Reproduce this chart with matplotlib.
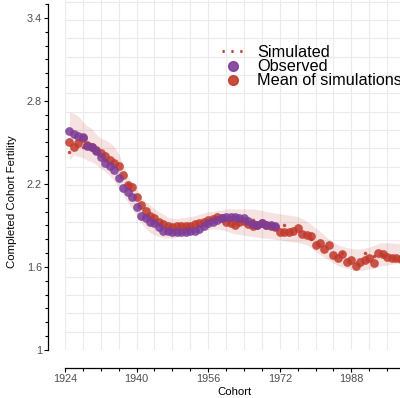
import numpy as np
from matplotlib import pyplot as plt
from matplotlib.lines import Line2D

plt.rcParams['font.family'] = ['Liberation Sans', 'DejaVu Sans']

years = np.arange(1925, 2000)

mean_sim = [2.506, 2.47, 2.494, 2.53, 2.48, 2.465, 2.445, 2.427, 2.40, 2.374,
            2.354, 2.33, 2.265, 2.193, 2.176, 2.104, 2.05, 2.007, 1.969, 1.952,
            1.923, 1.911, 1.899, 1.891, 1.895, 1.899, 1.899, 1.899, 1.908, 1.916,
            1.923, 1.94, 1.95, 1.964, 1.952, 1.927, 1.92, 1.904, 1.927, 1.935,
            1.911, 1.896, 1.904, 1.92, 1.904, 1.895, 1.891, 1.851, 1.851, 1.855,
            1.86, 1.88, 1.839, 1.831, 1.824, 1.759, 1.776, 1.728, 1.759, 1.687,
            1.667, 1.691, 1.638, 1.651, 1.607, 1.638, 1.651, 1.663, 1.627, 1.703,
            1.691, 1.67, 1.667, 1.663, 1.66]

upper = [2.72, 2.71, 2.69, 2.65, 2.62, 2.60, 2.56, 2.53, 2.52, 2.50,
         2.47, 2.42, 2.33, 2.26, 2.20, 2.16, 2.10, 2.07, 2.05, 2.02,
         2.00, 1.98, 1.96, 1.95, 1.95, 1.955, 1.96, 1.965, 1.97, 1.98,
         1.99, 2.00, 2.00, 2.01, 2.01, 2.02, 2.02, 2.02, 2.02, 2.02,
         2.02, 2.02, 2.015, 2.01, 2.00, 1.995, 1.99, 1.985, 1.98, 1.975,
         1.97, 1.965, 1.95, 1.93, 1.91, 1.88, 1.86, 1.83, 1.80, 1.78,
         1.76, 1.75, 1.74, 1.735, 1.73, 1.73, 1.735, 1.745, 1.755, 1.77,
         1.775, 1.775, 1.775, 1.77, 1.77]

lower = [2.38, 2.41, 2.40, 2.39, 2.37, 2.36, 2.34, 2.31, 2.29, 2.26,
         2.22, 2.17, 2.12, 2.07, 2.02, 1.97, 1.92, 1.88, 1.85, 1.83,
         1.82, 1.81, 1.81, 1.81, 1.82, 1.83, 1.835, 1.84, 1.85, 1.86,
         1.865, 1.87, 1.875, 1.875, 1.87, 1.86, 1.85, 1.84, 1.835, 1.83,
         1.825, 1.82, 1.815, 1.81, 1.81, 1.805, 1.80, 1.795, 1.79, 1.785,
         1.78, 1.78, 1.77, 1.76, 1.74, 1.71, 1.69, 1.67, 1.65, 1.63,
         1.61, 1.60, 1.59, 1.58, 1.575, 1.575, 1.58, 1.585, 1.59, 1.60,
         1.61, 1.615, 1.62, 1.625, 1.63]

obs_years = np.arange(1925, 1972)
observed = [2.583, 2.559, 2.547, 2.538, 2.477, 2.465, 2.44, 2.393, 2.354, 2.332,
            2.301, 2.241, 2.173, 2.142, 2.108, 2.036, 1.972, 1.952, 1.923, 1.916,
            1.887, 1.862, 1.857, 1.851, 1.851, 1.851, 1.851, 1.858, 1.86, 1.873,
            1.896, 1.916, 1.927, 1.94, 1.955, 1.965, 1.96, 1.965, 1.955, 1.955,
            1.93, 1.91, 1.905, 1.916, 1.905, 1.90, 1.895]

sim_years = [1925, 1928, 1933, 1938, 1944, 1951, 1957, 1963, 1966, 1973, 1979, 1986, 1991, 1993, 1995]
sim_values = [2.43, 2.47, 2.37, 2.20, 1.93, 1.88, 1.95, 1.94, 1.94, 1.90, 1.80, 1.70, 1.70, 1.68, 1.69]

red = '#C0392B'
purple = '#7D3C98'
grey_text = '#4D4D4D'

fig = plt.figure(figsize=(4, 3.98), dpi=100)
ax = fig.add_axes([65/400, 48/398, 340/400, 366.6/398])

ax.set_xlim(1924, 2000)
ax.set_ylim(1, 3.65)

# background grid (does not follow the tick marks)
for gx in np.arange(1924, 2001, 4):
    ax.axvline(gx, color='#EBEBEB', linewidth=0.8, zorder=0)
for gy in 1 + 0.1325*np.arange(0, 21):
    ax.axhline(gy, color='#EBEBEB', linewidth=0.8, zorder=0)

ax.fill_between(years, lower, upper, color=red, alpha=0.14, linewidth=0, zorder=1)
ax.plot(sim_years, sim_values, linestyle='none', marker='o', markersize=1.6,
        color=red, alpha=0.8, zorder=2)
ax.plot(years, mean_sim, linestyle='none', marker='o', markersize=6.3,
        color=red, alpha=0.85, markeredgewidth=0, zorder=3)
ax.plot(obs_years, observed, linestyle='none', marker='o', markersize=6.3,
        color=purple, alpha=0.85, markeredgewidth=0, zorder=4)

for s in ['top', 'right']:
    ax.spines[s].set_visible(False)
ax.spines['left'].set_position(('outward', 12.2))
ax.spines['bottom'].set_position(('outward', 13))
ax.spines['left'].set_bounds(1, 3.5)
ax.spines['bottom'].set_bounds(1924, 2000)
for s in ['left', 'bottom']:
    ax.spines[s].set_linewidth(0.9)

ax.set_yticks([1, 1.6, 2.2, 2.8, 3.4])
ax.set_yticklabels(['1', '1.6', '2.2', '2.8', '3.4'])
ax.set_yticks(np.arange(1, 3.51, 0.1), minor=True)
ax.set_xticks([1924, 1940, 1956, 1972, 1988])
ax.set_xticks(np.arange(1924, 2001, 4), minor=True)
ax.tick_params(which='major', length=3, width=0.8, labelsize=7.8, labelcolor=grey_text, pad=1.5)
ax.tick_params(which='minor', length=2.2, width=0.8)

ax.set_xlabel('Cohort', fontsize=8.2, labelpad=2)
ax.set_ylabel('Completed Cohort Fertility', fontsize=8.2)
ax.yaxis.set_label_coords(-0.14, (350 - 202) / 366.6, transform=ax.transAxes)

handles = [Line2D([], [], color=red, linestyle=(0, (0.8, 2.4)), linewidth=2),
           Line2D([], [], color=purple, marker='o', linestyle='none', markersize=7, alpha=0.9),
           Line2D([], [], color=red, marker='o', linestyle='none', markersize=7, alpha=0.9)]
fig.legend(handles, ['Simulated', 'Observed', 'Mean of simulations'],
           loc='upper left', bbox_to_anchor=(222/400, 1 - 45/398), frameon=False,
           fontsize=11.7, handlelength=1.3, handletextpad=0.85, labelspacing=-0.05,
           borderpad=0, borderaxespad=0)

plt.savefig('out.png', dpi=100)
